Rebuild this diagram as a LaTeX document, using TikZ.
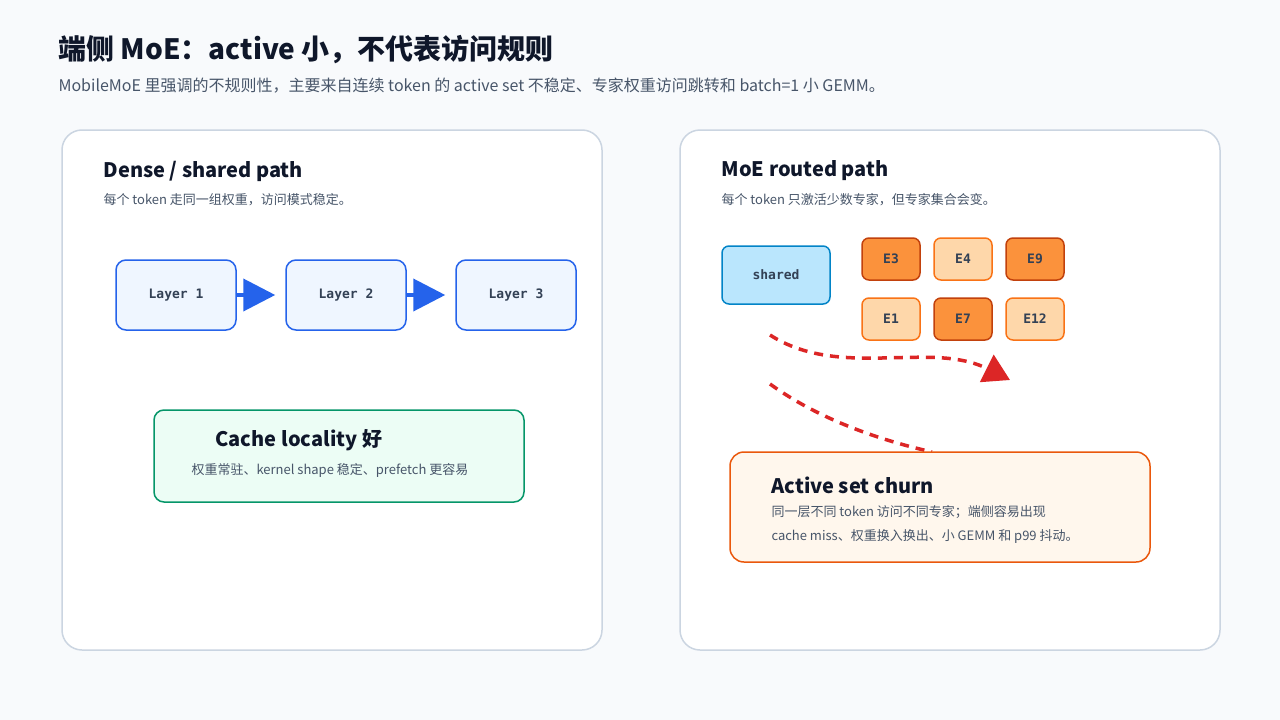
\documentclass[tikz,border=0pt]{standalone}
\usepackage{fontspec}
\setmainfont{Noto Sans CJK SC}
\newfontfamily\monofont{DejaVu Sans Mono}
\usetikzlibrary{arrows.meta, positioning}
\definecolor{bgc}{HTML}{F8FAFC}
\definecolor{panelb}{HTML}{CBD5E1}
\definecolor{ink}{HTML}{0F172A}
\definecolor{sub}{HTML}{475569}
\definecolor{layf}{HTML}{EFF6FF}
\definecolor{layb}{HTML}{2563EB}
\definecolor{grnf}{HTML}{ECFDF5}
\definecolor{grnb}{HTML}{059669}
\definecolor{shf}{HTML}{BAE6FD}
\definecolor{shb}{HTML}{0284C7}
\definecolor{actf}{HTML}{FB923C}
\definecolor{actb}{HTML}{C2410C}
\definecolor{idlf}{HTML}{FED7AA}
\definecolor{idlb}{HTML}{F97316}
\definecolor{chf}{HTML}{FFF7ED}
\definecolor{chb}{HTML}{EA580C}
\definecolor{redc}{HTML}{DC2626}
\definecolor{monoc}{HTML}{334155}
\begin{document}
\begin{tikzpicture}[x=1pt, y=-1pt,
    panel/.style={draw=panelb, line width=1.5pt, fill=white, rounded corners=20pt},
    layer/.style={draw=layb, line width=1.5pt, fill=layf, rounded corners=10pt,
      minimum width=120pt, minimum height=70pt, font=\monofont\bfseries\fontsize{13}{15}\selectfont, text=monoc},
    expert/.style={line width=1.5pt, rounded corners=7pt, minimum width=58pt, minimum height=42pt,
      font=\monofont\bfseries\fontsize{13}{15}\selectfont, text=monoc},
    active/.style={expert, draw=actb, fill=actf},
    idle/.style={expert, draw=idlb, fill=idlf},
    head/.style={anchor=west, font=\bfseries\fontsize{20}{24}\selectfont, text=ink},
    note/.style={anchor=west, font=\fontsize{13}{16}\selectfont, text=sub},
    flow/.style={draw=layb, line width=4pt, -{Triangle[length=32pt, width=32pt]}, shorten >=10pt},
    churn/.style={draw=redc, line width=3.5pt, dash pattern=on 9pt off 7pt}
  ]
  \useasboundingbox[fill=bgc] (0,0) rectangle (1280,720);

  % title
  \node[anchor=west, font=\bfseries\fontsize{28}{32}\selectfont, text=ink] (title) at (55,50) {端侧 MoE：active 小，不代表访问规则};
  \node[anchor=west, font=\fontsize{16}{19}\selectfont, text=sub] (subtitle) at (55,86) {MobileMoE 里强调的不规则性，主要来自连续 token 的 active set 不稳定、专家权重访问跳转和 batch=1 小 GEMM。};

  % panels
  \draw[panel] (62,130) rectangle (602,650);
  \draw[panel] (680,130) rectangle (1220,650);

  % left panel
  \node[head] (lhead) at (100,171) {Dense / shared path};
  \node[note] (lnote) at (100,200) {每个 token 走同一组权重，访问模式稳定。};
  \node[layer] (l1) at (176,295) {Layer 1};
  \node[layer] (l2) at (346,295) {Layer 2};
  \node[layer] (l3) at (516,295) {Layer 3};
  \draw[flow] (l1) -- (l2);
  \draw[flow] (l2) -- (l3);

  \draw[draw=grnb, fill=grnf, line width=1.5pt, rounded corners=10pt] (154,410) rectangle (524,502);
  \node[head] (cache) at (212,440) {Cache locality 好};
  \node[note] (cnote) at (188,470) {权重常驻、kernel shape 稳定、prefetch 更容易};

  % right panel
  \node[head] (rhead) at (718,171) {MoE routed path};
  \node[note] (rnote) at (718,200) {每个 token 只激活少数专家，但专家集合会变。};
  \node[draw=shb, fill=shf, line width=1.5pt, rounded corners=7pt, minimum width=108pt, minimum height=58pt,
    font=\monofont\bfseries\fontsize{13}{15}\selectfont, text=monoc] (shared) at (776,275) {shared};
  \node[active] (e3) at (891,259) {E3};
  \node[idle] (e4) at (963,259) {E4};
  \node[active] (e9) at (1035,259) {E9};
  \node[idle] (e1) at (891,319) {E1};
  \node[active] (e7) at (963,319) {E7};
  \node[idle] (e12) at (1035,319) {E12};

  \coordinate (c1s) at (770,335);
  \coordinate (c1e) at (1010,380);
  \coordinate (c2s) at (770,384);
  \coordinate (c2e) at (932,452);
  \draw[churn, -{Triangle[length=26pt, width=30pt]}] (c1s) .. controls (840,380) and (930,340) .. (c1e);
  \draw[churn] (c2s) .. controls (820,420) and (880,440) .. (c2e);

  \draw[draw=chb, fill=chf, line width=1.5pt, rounded corners=14pt] (730,452) rectangle (1150,562);
  \node[head] (chead) at (768,485) {Active set churn};
  \node[note] (cl1) at (768,512) {同一层不同 token 访问不同专家；端侧容易出现};
  \node[note] (cl2) at (768,537) {cache miss、权重换入换出、小 GEMM 和 p99 抖动。};
\end{tikzpicture}
\end{document}
